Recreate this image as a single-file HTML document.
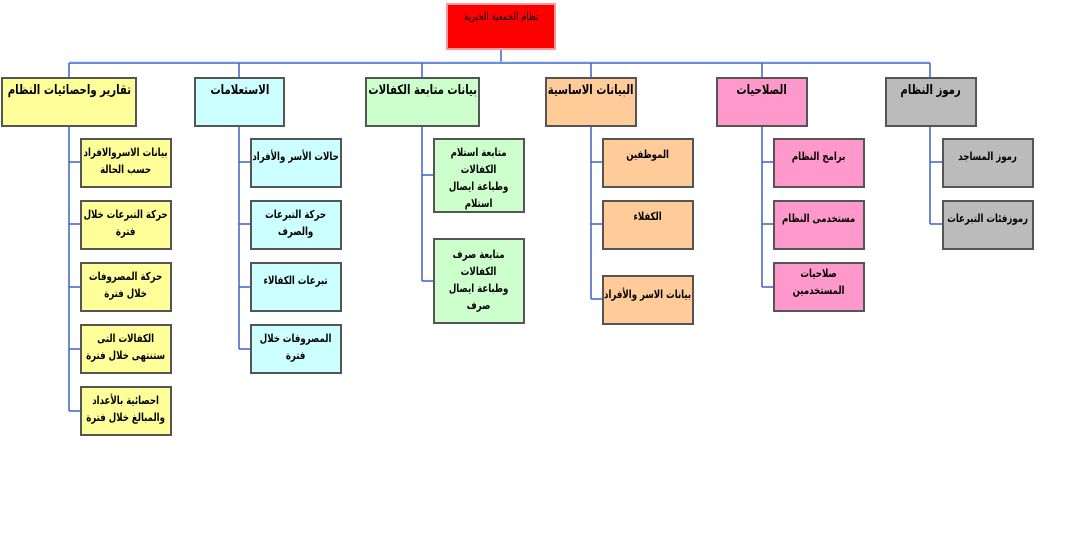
<!DOCTYPE html>
<html><head><meta charset="utf-8"><style>
body{margin:0;width:1086px;height:553px;background:#fff;position:relative;overflow:hidden;font-family:"DejaVu Sans",sans-serif}
.b{position:absolute;box-sizing:border-box;border:2px solid #555;direction:rtl;text-align:center;font-weight:bold;color:#000;overflow:hidden;white-space:nowrap}
.b span{display:block;width:140%;margin:0 -20%;transform:scaleX(.78);transform-origin:center;text-align:center}
.t{font-size:13px;padding-top:3px;line-height:18px}
.c{font-size:11px;padding-top:4px;line-height:17px}
.y{background:#ffff99}.cy{background:#ccffff}.g{background:#ccffcc}.o{background:#ffcc99}.p{background:#ff99cc}
.gr{background:#c8c8c8;background-image:radial-gradient(#999 0.6px,transparent 0.8px);background-size:2px 2px}
svg{position:absolute;left:0;top:0}
</style></head><body>
<svg width="1086" height="553">
<g stroke="#3a62c8" stroke-width="1.5" fill="none">
<path d="M501 50V63M69 63H930"/>
<path d="M69 63V77M239 63V77M422 63V77M591 63V77M762 63V77M930 63V77"/>
<path d="M69 126V411M69 162H80M69 224H80M69 287H80M69 349H80M69 411H80"/>
<path d="M239 126V349M239 162H250M239 224H250M239 287H250M239 349H250"/>
<path d="M422 126V281M422 175H433M422 281H433"/>
<path d="M591 126V299M591 162H602M591 224H602M591 299H602"/>
<path d="M762 126V287M762 162H773M762 224H773M762 287H773"/>
<path d="M930 126V224M930 162H942M930 224H942"/>
</g>
<path d="M69 62H930" stroke="#aac4ee" stroke-width="1" fill="none"/>
</svg>
<div class="b t" style="left:446px;top:3px;width:110px;height:47px;background:#ff0000;border-color:#ff9999;font-size:11px;font-weight:normal"><span>نظام الجمعية الخيرية</span></div>

<div class="b t y" style="left:1px;top:77px;width:136px;height:50px"><span>تقارير واحصائيات النظام</span></div>
<div class="b t cy" style="left:194px;top:77px;width:91px;height:50px"><span>الاستعلامات</span></div>
<div class="b t g" style="left:365px;top:77px;width:115px;height:50px"><span>بيانات متابعة الكفالات</span></div>
<div class="b t o" style="left:545px;top:77px;width:92px;height:50px"><span>البيانات الاساسية</span></div>
<div class="b t p" style="left:716px;top:77px;width:92px;height:50px"><span>الصلاحيات</span></div>
<div class="b t gr" style="left:885px;top:77px;width:92px;height:50px"><span>رموز النظام</span></div>

<div class="b c y" style="left:80px;top:138px;width:92px;height:50px"><span>بيانات الاسروالافراد</span><span>حسب الحالة</span></div>
<div class="b c y" style="left:80px;top:200px;width:92px;height:50px"><span>حركة التبرعات خلال</span><span>فترة</span></div>
<div class="b c y" style="left:80px;top:262px;width:92px;height:50px"><span>حركة المصروفات</span><span>خلال فترة</span></div>
<div class="b c y" style="left:80px;top:324px;width:92px;height:50px"><span>الكفالات التى</span><span>ستنتهى خلال فترة</span></div>
<div class="b c y" style="left:80px;top:386px;width:92px;height:50px"><span>احصائية بالأعداد</span><span>والمبالغ خلال فترة</span></div>

<div class="b c cy" style="left:250px;top:138px;width:92px;height:50px;padding-top:8px"><span>حالات الأسر والأفراد</span></div>
<div class="b c cy" style="left:250px;top:200px;width:92px;height:50px"><span>حركة التبرعات</span><span>والصرف</span></div>
<div class="b c cy" style="left:250px;top:262px;width:92px;height:50px;padding-top:8px"><span>تبرعات الكفالاء</span></div>
<div class="b c cy" style="left:250px;top:324px;width:92px;height:50px"><span>المصروفات خلال</span><span>فترة</span></div>

<div class="b c g" style="left:433px;top:138px;width:92px;height:75px"><span>متابعة استلام</span><span>الكفالات</span><span>وطباعة ايصال</span><span>استلام</span></div>
<div class="b c g" style="left:433px;top:238px;width:92px;height:86px;padding-top:6px"><span>متابعة صرف</span><span>الكفالات</span><span>وطباعة ايصال</span><span>صرف</span></div>

<div class="b c o" style="left:602px;top:138px;width:92px;height:50px;padding-top:6px"><span>الموظفين</span></div>
<div class="b c o" style="left:602px;top:200px;width:92px;height:50px;padding-top:6px"><span>الكفلاء</span></div>
<div class="b c o" style="left:602px;top:275px;width:92px;height:50px;padding-top:9px"><span>بيانات الاسر والأفراد</span></div>

<div class="b c p" style="left:773px;top:138px;width:92px;height:50px;padding-top:8px"><span>برامج النظام</span></div>
<div class="b c p" style="left:773px;top:200px;width:92px;height:50px;padding-top:8px"><span>مستخدمى النظام</span></div>
<div class="b c p" style="left:773px;top:262px;width:92px;height:50px;padding-top:1px"><span>صلاحيات</span><span>المستخدمين</span></div>

<div class="b c gr" style="left:942px;top:138px;width:92px;height:50px;padding-top:8px"><span>رموز المساجد</span></div>
<div class="b c gr" style="left:942px;top:200px;width:92px;height:50px;padding-top:8px"><span>رموزفئات التبرعات</span></div>
</body></html>
